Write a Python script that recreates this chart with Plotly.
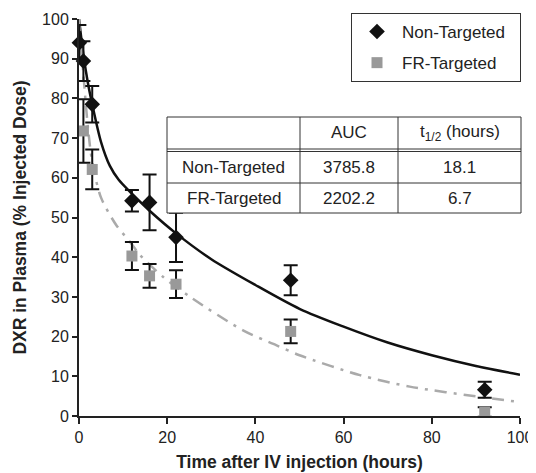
import plotly.graph_objects as go

time_nt = [0.083, 1, 3, 12, 16, 22, 48, 92]
dxr_nt = [94.0, 89.4, 78.5, 54.2, 53.8, 45.0, 34.2, 6.6]
err_nt = [4.5, 5.0, 4.6, 2.7, 7.0, 6.2, 3.8, 2.0]

time_fr = [1, 3, 12, 16, 22, 48, 92]
dxr_fr = [71.8, 62.1, 40.3, 35.3, 33.2, 21.3, 1.0]
err_fr = [8.0, 5.0, 3.5, 3.0, 3.5, 3.0, 1.2]

# Fitted curves, points
fit_nt_x = [0, 1, 2, 3, 5, 7, 9, 12, 16, 22, 30, 40, 50, 60, 70, 80, 90, 100]
fit_nt_y = [100, 91, 84, 78.5, 69, 63, 59.5, 56, 51.7, 46, 39.5, 33, 27, 22.5, 18.5, 15.3, 12.6, 10.4]

fit_fr_x = [0, 0.5, 1, 2, 3, 5, 8.5, 11.6, 13.8, 19.1, 25.2, 37.3, 44.8, 50, 63.7, 75, 91.7, 100]
fit_fr_y = [100, 93, 86, 73, 64, 55, 48, 43.8, 40.6, 35, 30, 21.5, 17.8, 15.3, 10.3, 7.4, 4.7, 3.5]

# Table contents
table_header = ["", "AUC", "t<sub>1/2</sub> (hours)"]
table_rows = [["Non-Targeted", "3785.8", "18.1"],
              ["FR-Targeted", "2202.2", "6.7"]]

FONT = "Liberation Sans, Arial, sans-serif"
TXT = "#222222"
PAD = "\u00a0\u00a0"

fig = go.Figure()

fig.add_trace(go.Scatter(x=fit_nt_x, y=fit_nt_y, mode="lines", line=dict(color="#111111", width=2.5, shape="spline", smoothing=0.8),
                         showlegend=False, hoverinfo="skip"))
fig.add_trace(go.Scatter(x=fit_fr_x, y=fit_fr_y, mode="lines", line=dict(color="#aaaaaa", width=2.5, shape="spline", smoothing=0.8, dash="12px,7px,3px,7px"),
                         showlegend=False, hoverinfo="skip"))

fig.add_trace(go.Scatter(x=time_fr, y=dxr_fr, mode="markers", name="FR-Targeted" + PAD,
                         marker=dict(symbol="square", size=11, color="#999999"),
                         error_y=dict(type="data", array=err_fr, color="#111111", thickness=2, width=7),
                         cliponaxis=False, legendgroup="b", legendrank=2))
fig.add_trace(go.Scatter(x=time_nt, y=dxr_nt, mode="markers", name="Non-Targeted" + PAD,
                         marker=dict(symbol="diamond", size=12, color="#111111"),
                         error_y=dict(type="data", array=err_nt, color="#111111", thickness=2, width=7),
                         cliponaxis=False, legendgroup="a", legendrank=1))

# Screen layout of the reference (the page body adds an 8 px offset)
OFF = 8
L, R, T, B = 79, 520, 19, 416   # plot area of the y axis
PT = 9                          # top of paper area
def px(xp):
    return (xp - L) / (R - L)
def py(yp):
    return (B - yp) / (B - PT)

col_edges = [167, 300, 398, 521]
row_edges = [117, 149, 183, 213]
line = dict(color="#333333", width=1)
shapes = []
shapes.append(dict(type="rect", xref="paper", yref="paper", x0=px(col_edges[0]), x1=px(col_edges[-1]),
                   y0=py(row_edges[-1]), y1=py(row_edges[0]), line=line, fillcolor="white", layer="above"))
for xe in col_edges[1:-1]:
    shapes.append(dict(type="line", xref="paper", yref="paper", x0=px(xe), x1=px(xe),
                       y0=py(row_edges[-1]), y1=py(row_edges[0]), line=line))
for ye in [row_edges[1], row_edges[1] + 2.5, row_edges[2]]:
    shapes.append(dict(type="line", xref="paper", yref="paper", x0=px(col_edges[0]), x1=px(col_edges[-1]),
                       y0=py(ye), y1=py(ye), line=line))

annotations = []
row_centers = [133, 167, 198.5]
for ci, txt in enumerate(table_header):
    if txt:
        annotations.append(dict(xref="paper", yref="paper", x=px((col_edges[ci] + col_edges[ci + 1]) / 2), y=py(row_centers[0]),
                                xanchor="center", yanchor="middle",
                                text=txt, showarrow=False, font=dict(size=17, color=TXT, family=FONT)))
for ri, row in enumerate(table_rows):
    for ci, txt in enumerate(row):
        annotations.append(dict(xref="paper", yref="paper", x=px((col_edges[ci] + col_edges[ci + 1]) / 2), y=py(row_centers[ri + 1]),
                                xanchor="center", yanchor="middle",
                                text=txt, showarrow=False, font=dict(size=17, color=TXT, family=FONT)))

W, H = 536 - OFF, 473 - OFF
fig.update_layout(
    width=W, height=H,
    margin=dict(l=L - OFF, r=OFF + W - R, t=PT - OFF, b=OFF + H - B),
    paper_bgcolor="white", plot_bgcolor="white",
    font=dict(family=FONT, size=16, color=TXT),
    shapes=shapes, annotations=annotations,
    legend=dict(x=px(521), xanchor="right", y=py(13), yanchor="top", itemwidth=40,
                bordercolor="#333333", borderwidth=1,
                bgcolor="white", font=dict(size=17, color=TXT, family=FONT), tracegroupgap=6, traceorder="grouped"),
    xaxis=dict(range=[0, 100], tickvals=[0, 20, 40, 60, 80, 100], showgrid=False, zeroline=False, automargin=False,
               showline=True, linecolor="#222222", linewidth=2, ticks="outside", ticklen=6, tickwidth=2,
               tickcolor="#222222", tickfont=dict(size=16, color=TXT),
               title=dict(text="<b>Time after IV injection (hours)</b>", font=dict(size=17.5, color=TXT), standoff=11)),
    yaxis=dict(range=[0, 100], domain=[0, py(T)], tickvals=[0, 10, 20, 30, 40, 50, 60, 70, 80, 90, 100],
               showgrid=False, zeroline=False, automargin=False,
               showline=True, linecolor="#222222", linewidth=2, ticks="outside", ticklen=5, tickwidth=2,
               tickcolor="#222222", tickfont=dict(size=16, color=TXT),
               title=dict(text="<b>DXR in Plasma (% Injected Dose)</b>", font=dict(size=17.5, color=TXT), standoff=11)),
)

fig.write_html("out.html")
